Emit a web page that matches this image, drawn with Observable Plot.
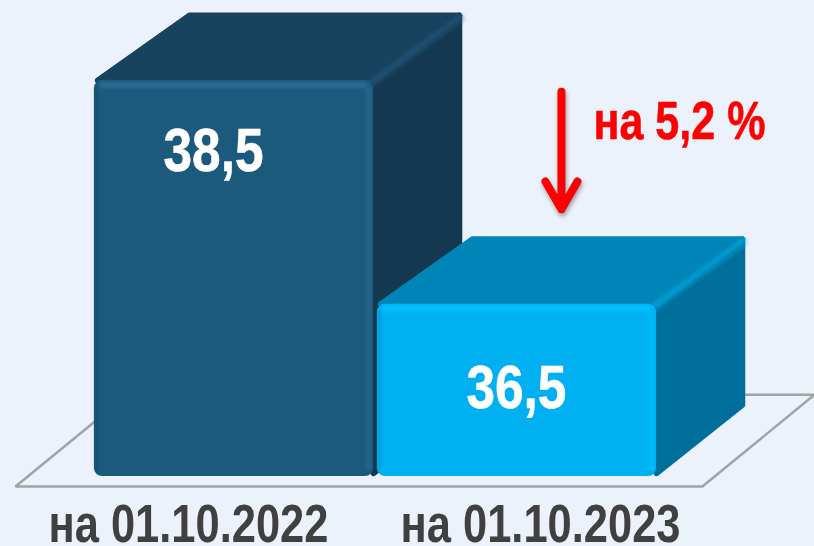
<!DOCTYPE html>
<html><head><meta charset="utf-8">
<script src="https://cdn.jsdelivr.net/npm/d3@7"></script>
<script src="https://cdn.jsdelivr.net/npm/@observablehq/plot@0.6"></script>
<style>
html,body{margin:0;padding:0;background:#ebf2fb;overflow:hidden}
svg{display:block;background:transparent!important}
.soft{filter:blur(1.4px)}
.shadow{filter:drop-shadow(1px 3px 2px rgba(0,0,0,.35))}
.t text,.t{font-family:"Liberation Sans",Arial,sans-serif;font-weight:700}
</style></head><body><div id="chart"></div>
<script>
const categories = ["на 01.10.2022", "на 01.10.2023"];
const values = [38.5, 36.5];
const valueLabels = ["38,5", "36,5"];
const changeLabel = "на 5,2 %";

const frontColors = ["#1b5a7c", "#00b0f0"];
const topColors = ["#17435e", "#0085b8"];
const sideColors = ["#14384f", "#006f9b"];
const edgeColors = ["#2a6a93", "#00c2ff"];
const darkEdgeColors = ["#134a68", "#0096d4"];

const base = 34.96, depthX = 0.315, depthXLeft = 0.335, depthY = 0.61, gap = 0.007;
const bars = values.map((v, i) => ({i, v, x0: i + gap, x1: i + 1 - gap,
  label: valueLabels[i], category: categories[i]}));

const poly = (pts, o) => Plot.line(pts, {x: "0", y: "1", curve: "linear-closed", strokeLinejoin: "round", ...o});

const barMarks = bars.flatMap(b => {
  const inset = 0.012, insetY = 0.03;
  return [
    poly([[b.x1, b.v - insetY], [b.x1 + depthX - inset, b.v + depthY - insetY], [b.x1 + depthX - inset, base + depthY + insetY], [b.x1, base + insetY]],
      {fill: sideColors[b.i], stroke: sideColors[b.i], strokeWidth: 6}),
    poly([[b.x0 + inset, b.v], [b.x1, b.v], [b.x1 + depthX - inset, b.v + depthY - insetY], [b.x0 + depthXLeft, b.v + depthY - insetY]],
      {fill: topColors[b.i], stroke: topColors[b.i], strokeWidth: 6}),
    Plot.line([[b.x1 - inset, b.v], [b.x1 + depthX - inset, b.v + depthY - insetY]],
      {x: "0", y: "1", stroke: edgeColors[b.i], strokeOpacity: 0.3, strokeWidth: 9, className: "soft", dx: 1, dy: 3}),
    Plot.rect([b], {x1: "x0", x2: "x1", y1: base, y2: "v", fill: frontColors[b.i], r: 8}),
    Plot.ruleY([b], {y: "v", x1: d => d.x0 + 0.02, x2: d => d.x1 - 0.02, dy: 4.5, stroke: edgeColors[b.i], strokeWidth: 6, className: "soft"}),
    Plot.ruleX([b], {x: "x1", y1: base + 0.05, y2: d => d.v - 0.06, dx: -5, stroke: edgeColors[b.i], strokeWidth: 6, strokeOpacity: 0.6, className: "soft"}),
    Plot.ruleX([b], {x: "x0", y1: base + 0.05, y2: d => d.v - 0.06, dx: 2, stroke: darkEdgeColors[b.i], strokeWidth: 3, strokeOpacity: 0.7, className: "soft"})
  ];
});

const chart = Plot.plot({
  width: 814, height: 546,
  marginTop: 0, marginRight: 0, marginBottom: 0, marginLeft: 0,
  x: {domain: [0, 2], range: [92, 658], axis: null},
  y: {domain: [base, 38.5], range: [476, 80], axis: null},
  marks: [
    poly([[-0.272, 34.87], [2.155, 34.87], [2.551, 35.69], [0.124, 35.69]],
      {fill: "none", stroke: "#a3a3a3", strokeWidth: 2.5, strokeLinejoin: "miter"}),
    ...barMarks,
    Plot.text([bars[0]], {x: 0.4276, y: 37.87, text: "label", fill: "white", stroke: "white", strokeWidth: 0.6, fontSize: 62, className: "t fit100"}),
    Plot.text([bars[1]], {x: 1.498, y: 35.75, text: "label", fill: "white", stroke: "white", strokeWidth: 0.6, fontSize: 62, className: "t fit100"}),
    Plot.text([bars[0]], {x: 0.339, y: 34.53, text: "category", fill: "#404040", fontSize: 53, className: "t fit280"}),
    Plot.text([bars[1]], {x: 1.583, y: 34.53, text: "category", fill: "#404040", fontSize: 53, className: "t fit280"}),
    Plot.text([changeLabel], {x: 2.074, y: 38.13, text: d => d, fill: "#ff0000", stroke: "#ff0000", strokeWidth: 0.6, fontSize: 54, className: "t fit172"}),
    Plot.arrow([{}], {x1: 1.657, x2: 1.657, y1: 38.4, y2: 37.35, stroke: "#ff0000", strokeWidth: 8, headLength: 6, strokeLinejoin: "miter", className: "shadow"})
  ]
});
// The reference's lettering is condensed: fit each text to its width.
for (const w of [100, 172, 280]) {
  chart.querySelectorAll(`.fit${w} text`).forEach(t => {
    t.setAttribute("textLength", w);
    t.setAttribute("lengthAdjust", "spacingAndGlyphs");
  });
}
document.getElementById("chart").append(chart);
</script></body></html>
